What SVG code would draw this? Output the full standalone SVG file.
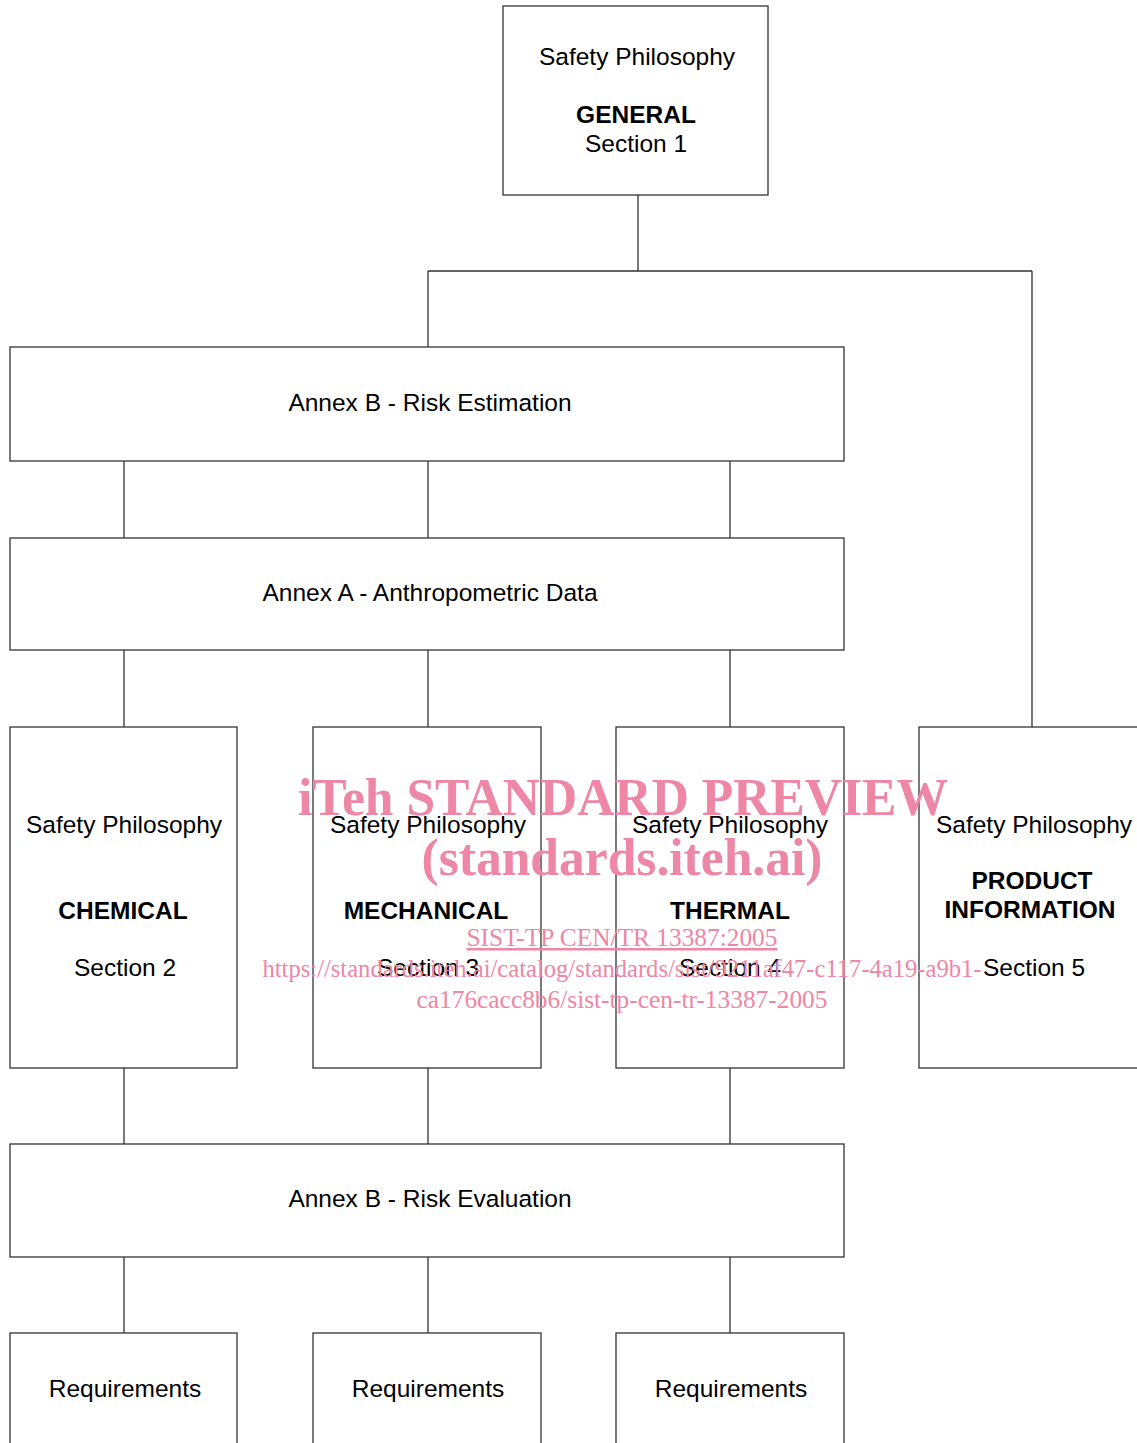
<svg xmlns="http://www.w3.org/2000/svg" width="1137" height="1443" viewBox="0 0 1137 1443">
<style>
.box{fill:#fff;stroke:#333;stroke-width:1.3}
.ln{stroke:#333;stroke-width:1.3;fill:none}
.t{font-family:"Liberation Sans",Arial,sans-serif;font-size:24.5px;fill:#000;text-anchor:middle}
.b{font-weight:bold}
.wm{font-family:"Liberation Serif","Times New Roman",serif;fill:#ee86a6;text-anchor:middle}
</style>
<rect width="1137" height="1443" fill="#fff"/>
<g id="connectors">
<path class="ln" d="M638 195V271M428 271H1032M428 271V347M1032 271V727"/>
<path class="ln" d="M124 461V538M428 461V538M730 461V538"/>
<path class="ln" d="M124 650V727M428 650V727M730 650V727"/>
<path class="ln" d="M124 1068V1144M428 1068V1144M730 1068V1144"/>
<path class="ln" d="M124 1257V1333M428 1257V1333M730 1257V1333"/>
</g>
<g id="general"><rect class="box" x="503" y="6" width="265" height="189"/>
<text class="t" x="637" y="65">Safety Philosophy</text>
<text class="t b" x="636" y="123">GENERAL</text>
<text class="t" x="636" y="152">Section 1</text></g>
<g id="risk-estimation"><rect class="box" x="10" y="347" width="834" height="114"/>
<text class="t" x="430" y="411">Annex B - Risk Estimation</text></g>
<g id="anthropometric"><rect class="box" x="10" y="538" width="834" height="112"/>
<text class="t" x="430" y="601">Annex A - Anthropometric Data</text></g>
<g id="chemical"><rect class="box" x="10" y="727" width="227" height="341"/>
<text class="t" x="124" y="833">Safety Philosophy</text>
<text class="t b" x="123" y="919">CHEMICAL</text>
<text class="t" x="125" y="976">Section 2</text></g>
<g id="mechanical"><rect class="box" x="313" y="727" width="228" height="341"/>
<text class="t" x="428" y="833">Safety Philosophy</text>
<text class="t b" x="426" y="919">MECHANICAL</text>
<text class="t" x="428" y="976">Section 3</text></g>
<g id="thermal"><rect class="box" x="616" y="727" width="228" height="341"/>
<text class="t" x="730" y="833">Safety Philosophy</text>
<text class="t b" x="730" y="919">THERMAL</text>
<text class="t" x="730" y="976">Section 4</text></g>
<g id="product"><rect class="box" x="919" y="727" width="228" height="341"/>
<text class="t" x="1034" y="833">Safety Philosophy</text>
<text class="t b" x="1032" y="889">PRODUCT</text>
<text class="t b" x="1030" y="918">INFORMATION</text>
<text class="t" x="1034" y="976">Section 5</text></g>
<g id="risk-evaluation"><rect class="box" x="10" y="1144" width="834" height="113"/>
<text class="t" x="430" y="1207">Annex B - Risk Evaluation</text></g>
<g id="req1"><rect class="box" x="10" y="1333" width="227" height="120"/>
<text class="t" x="125" y="1397">Requirements</text></g>
<g id="req2"><rect class="box" x="313" y="1333" width="228" height="120"/>
<text class="t" x="428" y="1397">Requirements</text></g>
<g id="req3"><rect class="box" x="616" y="1333" width="228" height="120"/>
<text class="t" x="731" y="1397">Requirements</text></g>
<g id="watermark">
<text class="wm" x="623" y="815" font-size="52" font-weight="bold" textLength="650" lengthAdjust="spacingAndGlyphs">iTeh STANDARD PREVIEW</text>
<text class="wm" x="622" y="875" font-size="52" font-weight="bold" textLength="401" lengthAdjust="spacingAndGlyphs">(standards.iteh.ai)</text>
<text class="wm" x="622" y="946" font-size="25" text-decoration="underline" textLength="311" lengthAdjust="spacingAndGlyphs">SIST-TP CEN/TR 13387:2005</text>
<text class="wm" x="622" y="977" font-size="25" textLength="719" lengthAdjust="spacingAndGlyphs">https://standards.iteh.ai/catalog/standards/sist/9211af47-c117-4a19-a9b1-</text>
<text class="wm" x="622" y="1008" font-size="25" textLength="411" lengthAdjust="spacingAndGlyphs">ca176cacc8b6/sist-tp-cen-tr-13387-2005</text>
</g>
</svg>
